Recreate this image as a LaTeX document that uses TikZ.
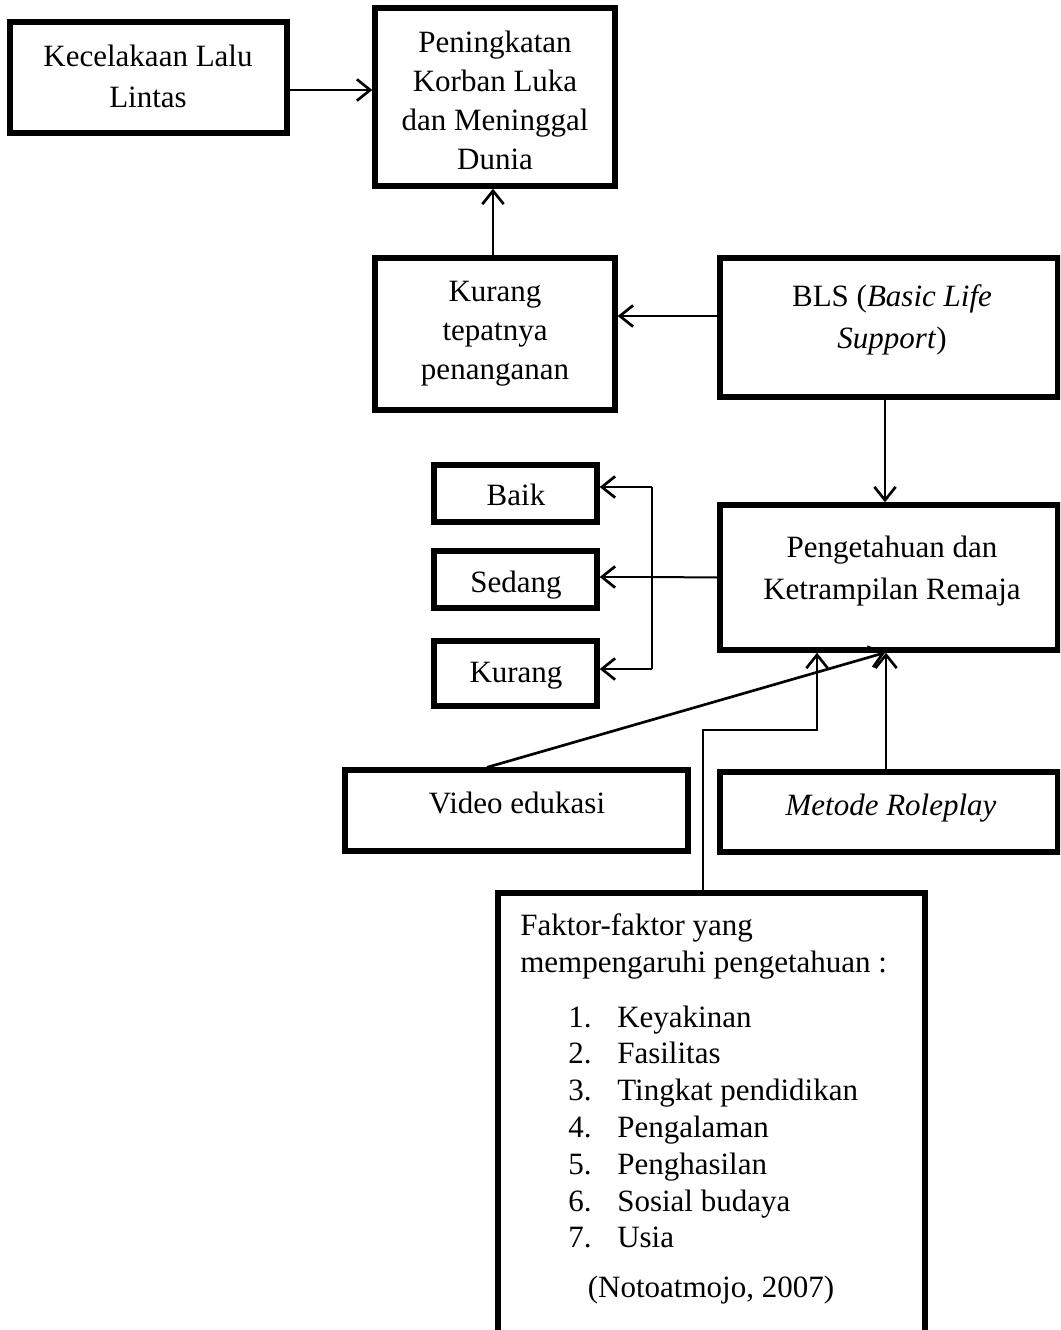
\documentclass[tikz,border=0pt]{standalone}
\usepackage{fontspec}
\setmainfont{Liberation Serif}
\usetikzlibrary{arrows.meta,fit}
\begin{document}
\begin{tikzpicture}[x=0.75pt,y=-0.75pt,
  box/.style={draw, rectangle, line width=4pt, inner sep=0pt},
  txt/.style={align=center, inner sep=0pt, font=\fontsize{23.25pt}{#1}\selectfont},
  txt/.default=29.25pt,
  ltxt/.style={anchor=base west, inner sep=0pt, font=\fontsize{23.25pt}{27.75pt}\selectfont},
  arr/.style={line width=2pt, -{Straight Barb[length=10pt,width=16pt,line width=2pt]}},
  brk/.style={line width=1.5pt},
  thinarr/.style={line width=1.2pt, -{Straight Barb[length=10pt,width=16pt,line width=2pt]}}
]
\useasboundingbox (0,0) rectangle (1060,1330);
\fill[white] (0,0) rectangle (1060,1330);
\clip (0,0) rectangle (1060,1330);

% boxes
\node[box, fit={(10,22)(287,133)}] (A) {};
\node[box, fit={(375,8)(615,186)}] (B) {};
\node[box, fit={(375,258)(615,410)}] (C) {};
\node[box, fit={(720,258)(1058,397)}] (D) {};
\node[box, fit={(720,505)(1058,650)}] (E) {};
\node[box, fit={(434,465)(597,522)}] (Baik) {};
\node[box, fit={(434,551)(597,608)}] (Sedang) {};
\node[box, fit={(434,641)(597,706)}] (Kurang) {};
\node[box, fit={(345,770)(688,851)}] (V) {};
\node[box, fit={(720,772)(1058,852)}] (M) {};
\node[box, fit={(498,893)(925,1345)}] (F) {};

% texts
\node[txt=30.75pt] (tA) at (148,76) {Kecelakaan Lalu\\Lintas};
\node[txt] (tB) at (495,100) {Peningkatan\\Korban Luka\\dan Meninggal\\Dunia};
\node[txt] (tC) at (495,334) {Kurang\\tepatnya\\penanganan};
\node[txt=31.5pt] (tD) at (892,320) {BLS (\textit{Basic Life}\\\textit{Support})};
\node[txt=31.5pt] (tE) at (892,571) {Pengetahuan dan\\Ketrampilan Remaja};
\node[txt] (tBaik) at (516,495) {Baik};
\node[txt] (tSedang) at (516,585) {Sedang};
\node[txt] (tKurang) at (516,676) {Kurang};
\node[txt] (tV) at (517,803) {Video edukasi};
\node[txt] (tM) at (891,808) {\textit{Metode Roleplay}};

\node[ltxt] (fh1) at (520,935) {Faktor-faktor yang};
\node[ltxt] (fh2) at (520,972) {mempengaruhi pengetahuan :};
\foreach \t [count=\i] in {Keyakinan,Fasilitas,Tingkat pendidikan,Pengalaman,Penghasilan,Sosial budaya,Usia}{
  \node[ltxt] (num\i) at (568,{1027+36.8*(\i-1)}) {\i.};
  \node[ltxt] (item\i) at (617,{1027+36.8*(\i-1)}) {\t};
}
\node[anchor=base, inner sep=0pt, font=\fontsize{23.25pt}{27.75pt}\selectfont] (ref) at (711,1297) {(Notoatmojo, 2007)};

% connectors
\draw[arr] (A.east |- 0,90) -- (B.west |- 0,90);
\draw[arr] (C.north -| 493,0) -- (B.south -| 493,0);
\draw[arr] (D.west |- 0,316) -- (C.east |- 0,316);
\draw[arr] (D.south -| 885,0) -- (E.north -| 885,0);

\coordinate (J) at (652,577);
\draw[brk] (E.west) -- (J);
\draw[brk] (J |- 0,487) -- (J |- 0,669);
\draw[brk, arr, line width=1.5pt] (J |- 0,487) -- (Baik.east |- 0,487);
\draw[brk, arr, line width=1.5pt] (J) -- (Sedang.east |- J);
\draw[brk, arr, line width=1.5pt] (J |- 0,669) -- (Kurang.east |- 0,669);

\draw[arr] (V.north -| 487,0) -- (E.south -| 885,0);
\draw[arr] (M.north -| 886,0) -- (E.south -| 886,0);
\draw[thinarr] (F.north -| 703,0) |- (817,730) -- (E.south -| 817,0);
\end{tikzpicture}
\end{document}
